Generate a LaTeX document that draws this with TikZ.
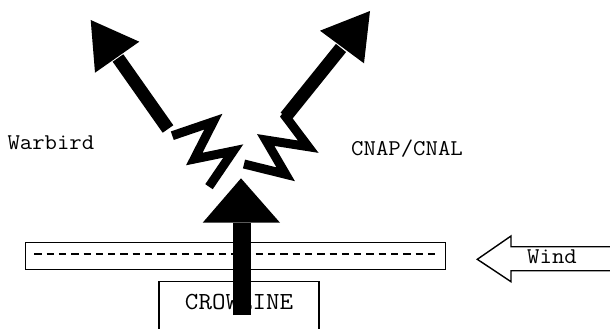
\documentclass[tikz,border=0pt]{standalone}
\usepackage{fontspec}
\newfontfamily\courlike{Latin Modern Mono}[FakeStretch=1.07]
\usetikzlibrary{calc}
\begin{document}
\begin{tikzpicture}[x=1pt,y=-1pt,
  lbl/.style={font=\courlike\fontsize{22.5}{22.5}\selectfont, inner sep=0pt, text=black},
  thinbox/.style={draw=black, line width=1.4pt, inner sep=0pt},
  shaft/.style={draw=black, line width=13pt, line cap=butt},
  zig/.style={draw=black, line width=9pt, line cap=butt, line join=miter},
  head/.style={fill=black, draw=none}]
\useasboundingbox (0,0) rectangle (610,329);
\clip (0,0) rectangle (610,329);

% dashed bar
\node[thinbox, minimum width=420pt, minimum height=27.3pt, anchor=north west] (bar) at (25,241.7) {};
\coordinate (dl) at (34.3,254);
\coordinate (dr) at (435,254);
\draw[line width=1.5pt, dash pattern=on 7.3pt off 5pt] (dl) -- (dr);

% CROWLINE box (open at bottom, cut by the page edge)
\node[thinbox, minimum width=160pt, minimum height=70pt, anchor=north west] (crowbox) at (158.3,280.7) {};
\node[lbl, anchor=base, font=\courlike\fontsize{24.5}{24.5}\selectfont] (crow) at (239,309) {CROWLINE};

% big upward arrow
\coordinate (upbase) at (241.7,315);
\coordinate (uphb) at (241.7,222.7);
\coordinate (uptip) at (241,178.3);
\draw[line width=18pt, line cap=butt] (upbase) -- (uphb);
\fill[head] (uptip) -- (280,222.7) -- (202.7,222.7) -- cycle;

% left zigzag + arrow
\coordinate (lz0) at (172.3,135.7);
\coordinate (lz1) at (213.3,121.7);
\coordinate (lz2) at (194.3,159);
\coordinate (lz3) at (233.3,151);
\coordinate (lz4) at (209,186.7);
\draw[zig] (lz0) -- (lz1) -- (lz2) -- (lz3) -- (lz4);
\coordinate (ls) at (168,129);
\coordinate (lhb) at (118,58);
\draw[shaft] (ls) -- (lhb);
\coordinate (ltip) at (90.7,20);
\fill[head] (ltip) -- (139.3,41.7) -- (95,72.7) -- cycle;

% right zigzag + arrow
\coordinate (rz0) at (244,164);
\coordinate (rz1) at (285.7,174.3);
\coordinate (rz2) at (265.7,140);
\coordinate (rz3) at (308.3,146.7);
\coordinate (rz4) at (285.7,116.7);
\coordinate (rhb) at (341,48);
\draw[zig] (rz0) -- (rz1) -- (rz2) -- (rz3) -- (rz4) -- ($(rz4)!12pt!(rhb)$);
\draw[shaft] (rz4) -- (rhb);
\coordinate (rtip) at (370,11);
\fill[head] (rtip) -- (364,63.3) -- (320,30.7) -- cycle;

% wind arrow
\coordinate (wtip) at (477.3,259.3);
\draw[thinbox, line join=miter] (620,246.7) -- (511,246.7) -- (511,236) -- (wtip) -- (511,281.7) -- (511,270.7) -- (620,270.7);
\node[lbl, anchor=base] (wind) at (552,263.3) {Wind};

% labels
\node[lbl, anchor=base west] (warbird) at (7.3,149) {Warbird};
\node[lbl, anchor=base] (cnap) at (407,155) {CNAP/CNAL};
\end{tikzpicture}
\end{document}
